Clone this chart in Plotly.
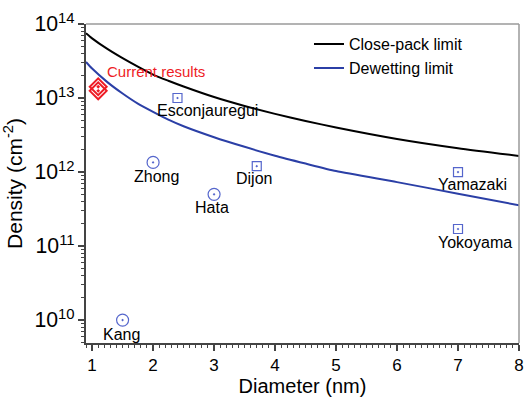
import math
import plotly.graph_objects as go

# ---- data ----
diam_grid = [0.9, 1.0, 1.25, 1.5, 1.75, 2.0, 2.25, 2.5, 3.0, 3.5, 4.0, 4.5, 5.0, 6.0, 7.0, 8.0]
close_pack = [7.5e13, 6.4e13, 4.6e13, 3.45e13, 2.65e13, 2.07e13, 1.71e13, 1.43e13, 1.03e13,
              7.8e12, 6.1e12, 4.9e12, 4.0e12, 2.8e12, 2.1e12, 1.65e12]
dewetting = [3.07e13, 2.5e13, 1.64e13, 1.15e13, 8.4e12, 6.5e12, 5.1e12, 4.15e12, 2.95e12,
             2.19e12, 1.66e12, 1.3e12, 1.03e12, 7.3e11, 5.1e11, 3.55e11]

current_x = [1.1, 1.1]
current_y = [1.25e13, 1.42e13]

circle_names = ["Zhong", "Hata", "Kang"]
circle_x = [2.0, 3.0, 1.5]
circle_y = [1.35e12, 5.0e11, 1.0e10]

square_names = ["Esconjauregui", "Dijon", "Yamazaki", "Yokoyama"]
square_x = [2.4, 3.7, 7.0, 7.0]
square_y = [1.0e13, 1.2e12, 1.0e12, 1.7e11]

# label anchor positions (x, density)
label_pos = {
    "Zhong": (2.06, 8.8e11),
    "Hata": (2.96, 3.27e11),
    "Kang": (1.49, 6.4e9),
    "Esconjauregui": (2.9, 6.8e12),
    "Dijon": (3.65, 8.1e11),
    "Yamazaki": (7.24, 6.8e11),
    "Yokoyama": (7.28, 1.13e11),
}

FONT = "Arial, Liberation Sans, sans-serif"
MARK = "#5566cc"

fig = go.Figure()
fig.add_trace(go.Scatter(x=diam_grid, y=close_pack, mode="lines", name="Close-pack limit",
                         line=dict(color="black", width=2, shape="spline", smoothing=0.6)))
fig.add_trace(go.Scatter(x=diam_grid, y=dewetting, mode="lines", name="Dewetting limit",
                         line=dict(color="#2b3fa6", width=2, shape="spline", smoothing=0.6)))
fig.add_trace(go.Scatter(x=current_x, y=current_y, mode="markers", showlegend=False,
                         marker=dict(symbol="diamond-open-dot", size=13, color="#ee1c25",
                                     line=dict(width=2, color="#ee1c25"))))
fig.add_trace(go.Scatter(x=circle_x, y=circle_y, mode="markers", showlegend=False,
                         marker=dict(symbol="circle-open-dot", size=12, color=MARK,
                                     line=dict(width=1.2, color=MARK))))
fig.add_trace(go.Scatter(x=square_x, y=square_y, mode="markers", showlegend=False,
                         marker=dict(symbol="square-open-dot", size=9, color=MARK,
                                     line=dict(width=1.2, color=MARK))))

for name, (lx, ly) in label_pos.items():
    fig.add_annotation(x=lx, y=math.log10(ly), text=name, showarrow=False,
                       xanchor="center", yanchor="middle",
                       font=dict(family=FONT, size=16, color="black"))

fig.add_annotation(x=1.21, y=math.log10(2.3e13), text="Current results", showarrow=False,
                   xanchor="left", yanchor="middle",
                   font=dict(family=FONT, size=15, color="#ee1c25"))

# light frame on top and right
fig.add_shape(type="line", xref="paper", yref="paper", x0=0, x1=1, y0=1, y1=1,
              line=dict(color="#9a9a9a", width=1.5))
fig.add_shape(type="line", xref="paper", yref="paper", x0=1, x1=1, y0=0, y1=1,
              line=dict(color="#9a9a9a", width=1.5))

fig.update_xaxes(range=[0.9, 8.0001], dtick=1, tick0=0, showgrid=False, zeroline=False,
                 automargin=False,
                 showline=True, linecolor="#444", linewidth=2,
                 ticks="outside", ticklen=6, tickwidth=1.5, tickcolor="#444",
                 minor=dict(ticks="outside", ticklen=3, dtick=0.1, tickcolor="#444", tickwidth=1),
                 tickfont=dict(family=FONT, size=17, color="black"),
                 title=dict(text="Diameter (nm)", font=dict(family=FONT, size=20, color="black"),
                            standoff=2))
fig.update_yaxes(type="log", range=[9.69, 14], dtick=1, exponentformat="power",
                 showgrid=False, zeroline=False, automargin=False,
                 showline=True, linecolor="#444", linewidth=2,
                 ticks="outside", ticklen=6, tickwidth=1.5, tickcolor="#444",
                 minor=dict(ticks="outside", ticklen=3, tickcolor="#444", tickwidth=1, showgrid=False),
                 tickfont=dict(family=FONT, size=17, color="black"),
                 title=dict(text="Density (cm<sup>-2</sup>)",
                            font=dict(family=FONT, size=21, color="black"), standoff=6))

fig.update_layout(
    width=525, height=397,
    margin=dict(l=86, r=6, t=24, b=54, autoexpand=False),
    plot_bgcolor="white", paper_bgcolor="white",
    legend=dict(x=0.515, y=0.99, xanchor="left", yanchor="top",
                bgcolor="rgba(0,0,0,0)", font=dict(family=FONT, size=16, color="black"),
                tracegroupgap=0, itemwidth=30),
)

fig.write_html("out.html", config={"displayModeBar": False},
               post_script="document.body.style.margin='0';document.body.style.padding='0';"
                           "document.documentElement.style.overflow='hidden';")
